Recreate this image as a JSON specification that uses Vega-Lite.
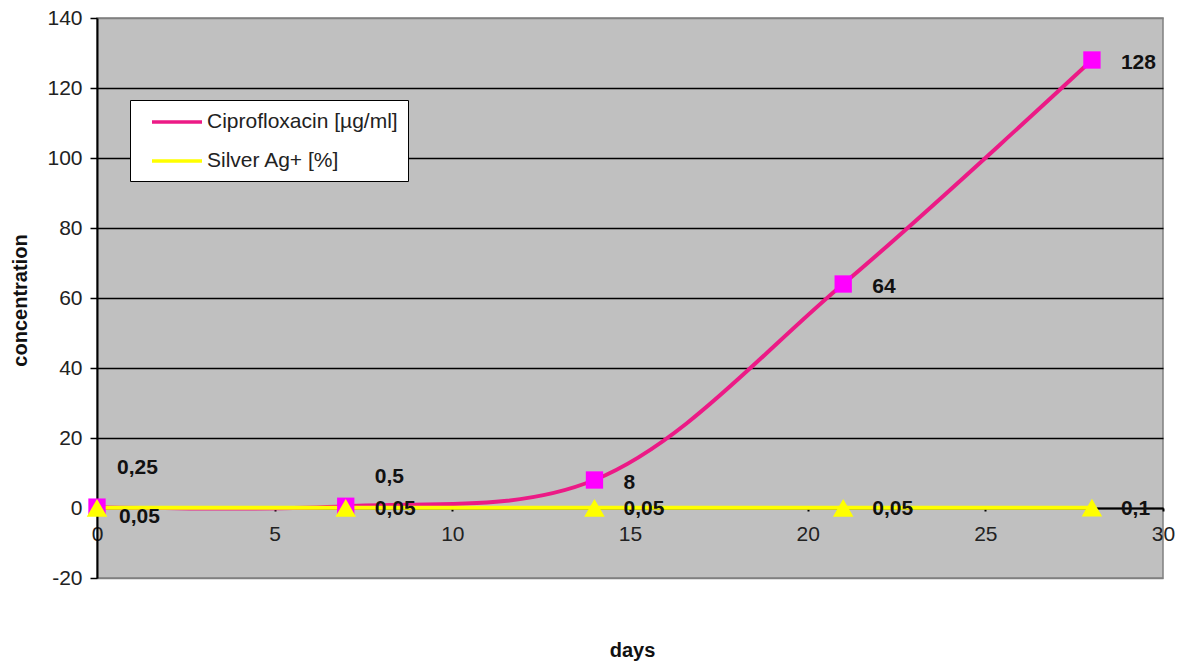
{
  "$schema": "https://vega.github.io/schema/vega-lite/v6.json",
  "autosize": "none",
  "width": 1066,
  "height": 560,
  "padding": {"left": 97, "top": 18, "right": 15, "bottom": 84},
  "background": "white",
  "config": {
    "font": "Liberation Sans",
    "view": {"fill": "#c0c0c0", "stroke": "#808080", "strokeWidth": 1.5}
  },
  "data": {
    "values": [
      {"day": 0, "series": "Ciprofloxacin [µg/ml]", "value": 0.25, "label": "0,25"},
      {"day": 7, "series": "Ciprofloxacin [µg/ml]", "value": 0.5, "label": "0,5"},
      {"day": 14, "series": "Ciprofloxacin [µg/ml]", "value": 8, "label": "8"},
      {"day": 21, "series": "Ciprofloxacin [µg/ml]", "value": 64, "label": "64"},
      {"day": 28, "series": "Ciprofloxacin [µg/ml]", "value": 128, "label": "128"},
      {"day": 0, "series": "Silver Ag+ [%]", "value": 0.05, "label": "0,05"},
      {"day": 7, "series": "Silver Ag+ [%]", "value": 0.05, "label": "0,05"},
      {"day": 14, "series": "Silver Ag+ [%]", "value": 0.05, "label": "0,05"},
      {"day": 21, "series": "Silver Ag+ [%]", "value": 0.05, "label": "0,05"},
      {"day": 28, "series": "Silver Ag+ [%]", "value": 0.1, "label": "0,1"}
    ]
  },
  "encoding": {
    "x": {
      "field": "day", "type": "quantitative",
      "scale": {"domain": [0, 30], "nice": false, "zero": false},
      "axis": {
        "title": "days", "titleFontSize": 20, "titleFontWeight": "bold", "titleColor": "#111",
        "titleX": 535, "titleY": 142, "titleBaseline": "middle", "titleAnchor": null,
        "offset": -70, "values": [0, 5, 10, 15, 20, 25, 30],
        "domainColor": "black", "domainWidth": 2,
        "tickColor": "black", "tickSize": 3, "tickWidth": 2,
        "labelFontSize": 21, "labelColor": "#222", "labelPadding": 12, "labelFlush": false,
        "grid": false
      }
    },
    "y": {
      "field": "value", "type": "quantitative",
      "scale": {"domain": [-20, 140], "nice": false, "zero": false},
      "axis": {
        "title": "concentration", "titleFontSize": 20, "titleFontWeight": "bold", "titleColor": "#111",
        "titleX": -77, "titleY": 282, "titleAngle": 270, "titleBaseline": "middle", "titleAlign": "center",
        "values": [-20, 0, 20, 40, 60, 80, 100, 120, 140],
        "labelExpr": "datum.value < 0 ? '-' + abs(datum.value) : datum.label",
        "domainColor": "black", "domainWidth": 2,
        "tickColor": "black", "tickSize": 7, "tickWidth": 1.5,
        "labelFontSize": 21, "labelColor": "#222", "labelPadding": 8,
        "grid": true,
        "gridColor": {"condition": {"test": "datum.value == 140 || datum.value == -20", "value": "#808080"}, "value": "black"},
        "gridWidth": 1.5, "gridOpacity": 1
      }
    }
  },
  "layer": [
    {
      "mark": {"type": "line", "interpolate": "catmull-rom", "strokeWidth": 4},
      "encoding": {
        "color": {
          "field": "series", "type": "nominal",
          "scale": {"domain": ["Ciprofloxacin [µg/ml]", "Silver Ag+ [%]"], "range": ["#ec1a86", "#ffff00"]},
          "legend": {
            "title": null, "orient": "none", "legendX": 33, "legendY": 82,
            "fillColor": "white", "strokeColor": "black",
            "padding": 10, "symbolType": "M-2.5,0L2.5,0", "symbolSize": 400, "symbolStrokeWidth": 3.5,
            "symbolOffset": 25,
            "labelFontSize": 21, "labelColor": "#222", "rowPadding": 17, "labelOffset": 18,
            "labelLimit": 400
          }
        }
      }
    },
    {
      "mark": {"type": "point", "filled": true, "opacity": 1},
      "encoding": {
        "fill": {
          "field": "series", "type": "nominal",
          "scale": {"domain": ["Silver Ag+ [%]", "Ciprofloxacin [µg/ml]"], "range": ["#ffff00", "#ff00ff"]},
          "legend": null
        },
        "shape": {
          "field": "series", "type": "nominal",
          "scale": {"domain": ["Silver Ag+ [%]", "Ciprofloxacin [µg/ml]"], "range": ["triangle-up", "square"]},
          "legend": null
        },
        "size": {
          "field": "series", "type": "nominal",
          "scale": {"domain": ["Silver Ag+ [%]", "Ciprofloxacin [µg/ml]"], "range": [420, 300]},
          "legend": null
        }
      }
    },
    {
      "transform": [{"filter": "datum.series == 'Ciprofloxacin [µg/ml]' && datum.day == 0"}],
      "mark": {"type": "text", "align": "left", "baseline": "middle", "dx": 20, "dy": -39, "fontSize": 21, "fontWeight": "bold", "color": "#111"},
      "encoding": {"text": {"field": "label"}}
    },
    {
      "transform": [{"filter": "datum.series == 'Ciprofloxacin [µg/ml]' && datum.day == 7"}],
      "mark": {"type": "text", "align": "left", "baseline": "middle", "dx": 29, "dy": -29, "fontSize": 21, "fontWeight": "bold", "color": "#111"},
      "encoding": {"text": {"field": "label"}}
    },
    {
      "transform": [{"filter": "datum.series == 'Ciprofloxacin [µg/ml]' && datum.day >= 14"}],
      "mark": {"type": "text", "align": "left", "baseline": "middle", "dx": 29, "dy": 3, "fontSize": 21, "fontWeight": "bold", "color": "#111"},
      "encoding": {"text": {"field": "label"}}
    },
    {
      "transform": [{"filter": "datum.series == 'Silver Ag+ [%]' && datum.day == 0"}],
      "mark": {"type": "text", "align": "left", "baseline": "middle", "dx": 22, "dy": 9, "fontSize": 21, "fontWeight": "bold", "color": "#111"},
      "encoding": {"text": {"field": "label"}}
    },
    {
      "transform": [{"filter": "datum.series == 'Silver Ag+ [%]' && datum.day > 0"}],
      "mark": {"type": "text", "align": "left", "baseline": "middle", "dx": 29, "dy": 1, "fontSize": 21, "fontWeight": "bold", "color": "#111"},
      "encoding": {"text": {"field": "label"}}
    }
  ]
}
